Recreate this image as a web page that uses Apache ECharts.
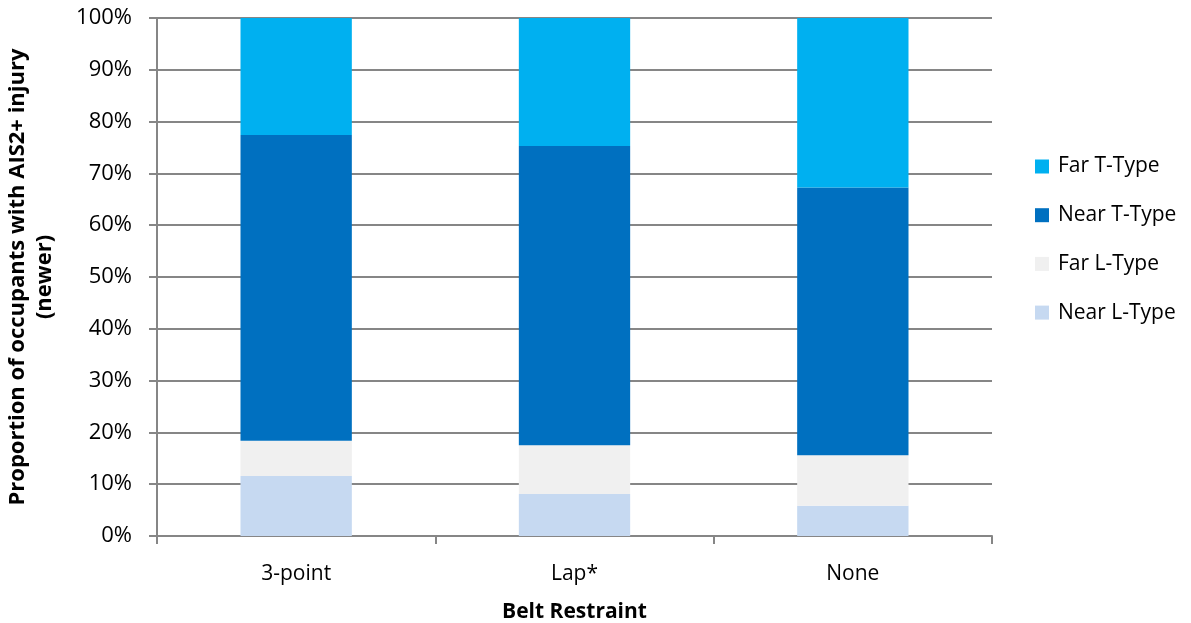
<!DOCTYPE html>
<html>
<head>
<meta charset="utf-8">
<script src="https://cdn.jsdelivr.net/npm/echarts@6/dist/echarts.min.js"></script>
<style>html,body{margin:0;padding:0;background:#fff;}#c{width:1191px;height:623px;}</style>
</head>
<body>
<div id="c"></div>
<script>
const categories = ['3-point', 'Lap*', 'None'];
const nearLType = [11.6, 8.1, 5.85];
const farLType = [6.8, 9.4, 9.75];
const nearTType = [59.0, 57.8, 51.7];
const farTType = [22.6, 24.7, 32.7];
const yTicks = [0, 10, 20, 30, 40, 50, 60, 70, 80, 90, 100];

const FONT = 'Open Sans';
const chart = echarts.init(document.getElementById('c'), null, {renderer: 'canvas'});
function s(name, data, color) {
  return {
    name: name, type: 'bar', stack: 'total', data: data, barWidth: '40%',
    itemStyle: {color: color}, emphasis: {disabled: true}
  };
}
chart.setOption({
  animation: false,
  textStyle: {fontFamily: FONT},
  grid: {left: 157, right: 199, top: 18, bottom: 87, containLabel: false, outerBoundsMode: 'none'},
  legend: {
    orient: 'vertical', left: 1030, top: 151, itemGap: 27.7, itemWidth: 14, itemHeight: 14,
    icon: 'rect',
    data: ['Far T-Type', 'Near T-Type', 'Far L-Type', 'Near L-Type'],
    textStyle: {fontFamily: FONT, fontSize: 21, color: '#000', padding: [0, 0, 0, 4]}
  },
  xAxis: {
    type: 'category', data: categories,
    name: 'Belt Restraint', nameLocation: 'middle', nameGap: 66,
    nameTextStyle: {fontFamily: FONT, fontSize: 21, fontWeight: 'bold', color: '#000'},
    axisLine: {lineStyle: {color: '#868686', width: 2}},
    axisTick: {show: true, alignWithLabel: false, length: 8, lineStyle: {color: '#868686', width: 2}},
    axisLabel: {fontFamily: FONT, fontSize: 21, color: '#000', margin: 28}
  },
  yAxis: {
    type: 'value', min: 0, max: 100, interval: 10,
    name: 'Proportion of occupants with AIS2+ injury\n(newer)', nameLocation: 'middle', nameGap: 99,
    nameRotate: 90,
    nameTextStyle: {fontFamily: FONT, fontSize: 22, fontWeight: 'bold', color: '#000', lineHeight: 27},
    axisLine: {show: true, lineStyle: {color: '#868686', width: 2}},
    axisTick: {show: true, length: 8, lineStyle: {color: '#868686', width: 2}},
    axisLabel: {fontFamily: FONT, fontSize: 22, color: '#000', margin: 25,
      formatter: function (v) { return v + '%'; }},
    splitLine: {lineStyle: {color: '#868686', width: 2}}
  },
  series: [
    s('Near L-Type', nearLType, '#C6D9F1'),
    s('Far L-Type', farLType, '#F0F0F0'),
    s('Near T-Type', nearTType, '#0070C0'),
    s('Far T-Type', farTType, '#00B0F0')
  ]
});
</script>
</body>
</html>
